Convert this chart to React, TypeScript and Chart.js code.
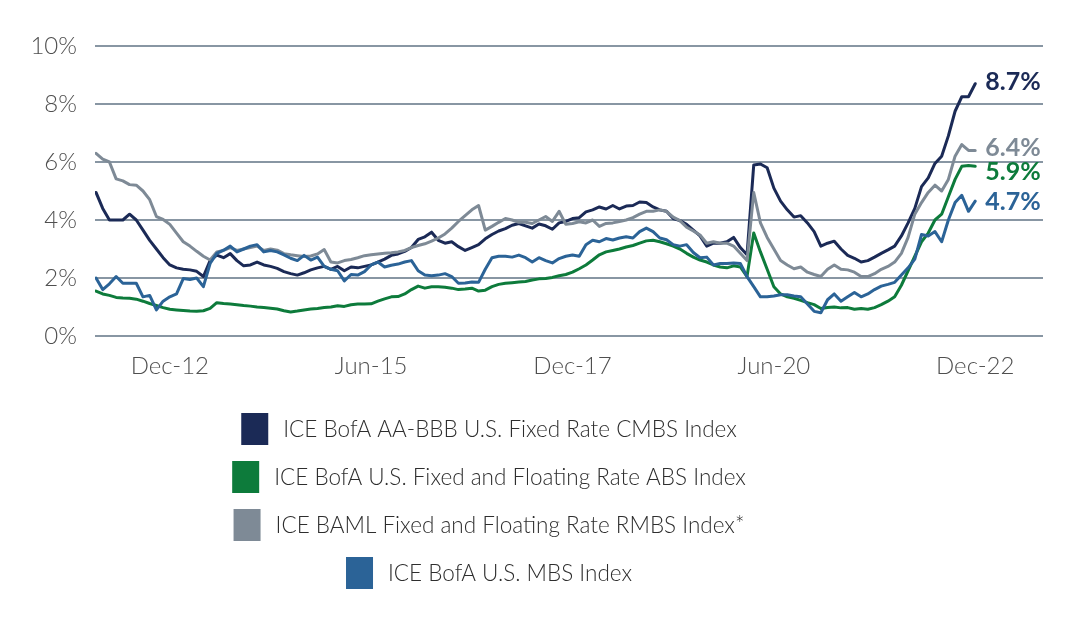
import React, { useEffect, useRef } from 'react';
import { Chart, registerables } from 'chart.js';

Chart.register(...registerables);

// Month categories Jan-12 .. Dec-22
const MONTH_NAMES = ['Jan', 'Feb', 'Mar', 'Apr', 'May', 'Jun', 'Jul', 'Aug', 'Sep', 'Oct', 'Nov', 'Dec'];
const categories: string[] = [];
for (let yr = 12; yr <= 22; yr++) {
  for (const m of MONTH_NAMES) categories.push(`${m}-${yr}`);
}

const xTickLabels = ['Dec-12', 'Jun-15', 'Dec-17', 'Jun-20', 'Dec-22'];

const seriesNames = [
  'ICE BofA AA-BBB U.S. Fixed Rate CMBS Index',
  'ICE BofA U.S. Fixed and Floating Rate ABS Index',
  'ICE BAML Fixed and Floating Rate RMBS Index*',
  'ICE BofA U.S. MBS Index',
];

const endLabels = ['8.7%', '5.9%', '6.4%', '4.7%'];

// ICE BofA AA-BBB U.S. Fixed Rate CMBS Index (yield, %)
const cmbs = [
  4.95, 4.4, 4.0, 4.0, 4.0, 4.2, 4.0, 3.65, 3.3, 3.0, 2.7, 2.45,
  2.35, 2.3, 2.28, 2.23, 2.05, 2.6, 2.79, 2.7, 2.84, 2.6, 2.42, 2.45,
  2.55, 2.45, 2.4, 2.33, 2.22, 2.15, 2.1, 2.18, 2.28, 2.35, 2.4, 2.3,
  2.4, 2.25, 2.38, 2.35, 2.4, 2.45, 2.55, 2.65, 2.78, 2.83, 2.92, 3.05,
  3.33, 3.42, 3.58, 3.3, 3.2, 3.25, 3.08, 2.95, 3.05, 3.15, 3.35, 3.5,
  3.62, 3.7, 3.82, 3.88, 3.8, 3.72, 3.86, 3.8, 3.68, 3.9, 3.95, 4.05,
  4.08, 4.28, 4.35, 4.45, 4.38, 4.5, 4.38, 4.48, 4.5, 4.62, 4.6, 4.45,
  4.35, 4.3, 4.05, 3.98, 3.85, 3.65, 3.45, 3.1, 3.2, 3.2, 3.25, 3.4,
  3.05, 2.8, 5.9, 5.93, 5.8, 5.1, 4.65, 4.35, 4.1, 4.15, 3.9, 3.6,
  3.1, 3.2, 3.27, 3.0, 2.78, 2.68, 2.55, 2.6, 2.72, 2.85, 2.97, 3.1,
  3.45, 3.9, 4.4, 5.15, 5.45, 5.95, 6.2, 6.9, 7.75, 8.25, 8.25, 8.7,
];

// ICE BofA U.S. Fixed and Floating Rate ABS Index
const abs = [
  1.55, 1.45, 1.4, 1.33, 1.31, 1.3, 1.27, 1.2, 1.12, 1.05, 0.98, 0.92,
  0.9, 0.88, 0.86, 0.85, 0.87, 0.95, 1.15, 1.12, 1.1, 1.08, 1.05, 1.03,
  1.0, 0.98, 0.96, 0.93, 0.87, 0.83, 0.86, 0.9, 0.93, 0.95, 0.98, 1.0,
  1.04, 1.02, 1.08, 1.1, 1.1, 1.11, 1.2, 1.28, 1.35, 1.36, 1.45, 1.6,
  1.72, 1.65, 1.7, 1.7, 1.68, 1.65, 1.6, 1.62, 1.65, 1.55, 1.58, 1.7,
  1.78, 1.82, 1.84, 1.86, 1.88, 1.93, 1.97, 1.98, 2.02, 2.08, 2.12, 2.2,
  2.32, 2.45, 2.62, 2.8, 2.9, 2.95, 3.0, 3.07, 3.12, 3.2, 3.28, 3.3,
  3.25, 3.18, 3.1, 3.0, 2.85, 2.72, 2.62, 2.55, 2.45, 2.38, 2.35, 2.42,
  2.38, 2.05, 3.55, 2.9, 2.3, 1.7, 1.45, 1.35, 1.3, 1.23, 1.15, 1.08,
  0.95, 0.98, 1.0, 0.97, 0.98, 0.92, 0.95, 0.92, 0.98, 1.08, 1.2, 1.35,
  1.75, 2.25, 2.75, 3.25, 3.55, 4.0, 4.2, 4.8, 5.4, 5.85, 5.88, 5.85,
];

// ICE BAML Fixed and Floating Rate RMBS Index*
const rmbs = [
  6.3, 6.1, 6.0, 5.42, 5.35, 5.22, 5.2, 5.0, 4.7, 4.12, 4.02, 3.85,
  3.55, 3.25, 3.1, 2.92, 2.75, 2.62, 2.9, 2.95, 3.05, 2.95, 3.0, 3.05,
  3.1, 2.95, 3.0, 2.96, 2.84, 2.8, 2.77, 2.74, 2.76, 2.83, 2.98, 2.55,
  2.52, 2.6, 2.64, 2.7, 2.77, 2.8, 2.83, 2.85, 2.87, 2.9, 2.95, 3.05,
  3.12, 3.18, 3.27, 3.38, 3.52, 3.72, 3.95, 4.15, 4.35, 4.5, 3.65, 3.78,
  3.92, 4.05, 4.0, 3.92, 3.92, 3.88, 4.0, 4.12, 3.95, 4.3, 3.85, 3.88,
  3.94, 3.9, 4.0, 3.78, 3.88, 3.9, 3.95, 4.0, 4.08, 4.2, 4.3, 4.3,
  4.35, 4.3, 4.1, 3.98, 3.75, 3.62, 3.48, 3.2, 3.25, 3.2, 3.2, 3.1,
  2.85, 2.6, 4.95, 3.9, 3.4, 3.0, 2.6, 2.45, 2.32, 2.38, 2.2, 2.12,
  2.05, 2.3, 2.45, 2.3, 2.28, 2.2, 2.05, 2.05, 2.15, 2.3, 2.4, 2.55,
  2.85, 3.4, 4.2, 4.6, 4.95, 5.2, 5.0, 5.4, 6.2, 6.6, 6.4, 6.4,
];

// ICE BofA U.S. MBS Index
const mbs = [
  2.0, 1.6, 1.8, 2.05, 1.82, 1.82, 1.82, 1.35, 1.4, 0.9, 1.2, 1.35,
  1.45, 1.98, 1.95, 2.0, 1.7, 2.5, 2.85, 2.96, 3.1, 2.9, 3.0, 3.1,
  3.15, 2.9, 2.95, 2.9, 2.8, 2.68, 2.6, 2.78, 2.62, 2.72, 2.4, 2.3,
  2.25, 1.9, 2.12, 2.1, 2.22, 2.45, 2.55, 2.38, 2.44, 2.48, 2.55, 2.6,
  2.25, 2.1, 2.08, 2.1, 2.15, 2.05, 1.82, 1.83, 1.86, 1.85, 2.3, 2.7,
  2.75, 2.75, 2.72, 2.79, 2.7, 2.55, 2.7, 2.6, 2.52, 2.67, 2.75, 2.79,
  2.75, 3.15, 3.3, 3.25, 3.36, 3.31, 3.38, 3.42, 3.38, 3.6, 3.72, 3.6,
  3.38, 3.32, 3.15, 3.1, 3.15, 2.88, 2.7, 2.72, 2.45, 2.5, 2.5, 2.52,
  2.5, 2.05, 1.7, 1.35, 1.35, 1.38, 1.42, 1.42, 1.38, 1.35, 1.1, 0.85,
  0.8, 1.25, 1.45, 1.2, 1.35, 1.5, 1.35, 1.45, 1.6, 1.72, 1.78, 1.85,
  2.1, 2.35, 2.65, 3.5, 3.45, 3.6, 3.25, 4.0, 4.6, 4.85, 4.3, 4.65,
];

const seriesValues = [cmbs, abs, rmbs, mbs];
const colors = ['#1b2a56', '#0d7b3b', '#7e8a96', '#2b6397'];
const drawOrder = [3, 2, 1, 0];
const labelOffsets = [-2, 6, -2, 1];

const FONT = 'Lato, "Open Sans", sans-serif';

const endLabelPlugin = {
  id: 'endLabels',
  afterDatasetsDraw(chart: any) {
    const { ctx, scales } = chart;
    ctx.save();
    ctx.font = `bold 25px ${FONT}`;
    ctx.textAlign = 'left';
    ctx.textBaseline = 'middle';
    chart.data.datasets.forEach((ds: any, k: number) => {
      const last = ds.data[ds.data.length - 1];
      const x = scales.x.getPixelForValue(last.x) + 10;
      const y = scales.y.getPixelForValue(last.y) + labelOffsets[k];
      ctx.fillStyle = colors[k];
      ctx.fillText(endLabels[k], x, y);
    });
    ctx.restore();
  },
};

const legendPlugin = {
  id: 'stackedLegend',
  afterDraw(chart: any) {
    const { ctx } = chart;
    ctx.save();
    ctx.font = `300 22.5px ${FONT}`;
    ctx.textBaseline = 'middle';
    ctx.textAlign = 'left';
    const centerX = 489;
    const boxW = 27;
    const boxH = 32;
    const gap = 15;
    chart.data.datasets.forEach((ds: any, k: number) => {
      const cy = 429 + k * 48;
      const tw = ctx.measureText(ds.label).width;
      const total = boxW + gap + tw;
      const left = centerX - total / 2;
      ctx.fillStyle = colors[k];
      ctx.fillRect(left, cy - boxH / 2, boxW, boxH);
      ctx.fillStyle = '#2e2e2e';
      ctx.fillText(ds.label, left + boxW + gap, cy + 1);
    });
    ctx.restore();
  },
};

export default function App() {
  const canvasRef = useRef<HTMLCanvasElement | null>(null);

  useEffect(() => {
    const canvas = canvasRef.current;
    if (!canvas) return;
    const tickIdx = xTickLabels.map((l) => categories.indexOf(l));
    const chart = new Chart(canvas, {
      type: 'line',
      data: {
        datasets: seriesNames.map((name, k) => ({
          label: name,
          data: seriesValues[k].map((v, i) => ({ x: i, y: v })),
          borderColor: colors[k],
          backgroundColor: colors[k],
          borderWidth: 3,
          pointRadius: 0,
          tension: 0,
          borderJoinStyle: 'round' as const,
          borderCapStyle: 'round' as const,
          order: drawOrder[k],
          fill: false,
        })),
      },
      options: {
        responsive: false,
        animation: false,
        layout: { padding: { top: 46, right: 33, left: 0, bottom: 0 } },
        plugins: {
          legend: { display: false },
          tooltip: { enabled: false },
        },
        scales: {
          x: {
            type: 'linear',
            min: -0.15,
            max: 141.1,
            grid: { display: false, drawTicks: false },
            border: { display: false },
            ticks: {
              autoSkip: false,
              maxRotation: 0,
              padding: 16,
              color: '#4f4f4f',
              font: { family: FONT, size: 24, weight: '300' as any },
              callback: (v: any) => categories[Math.round(Number(v))] ?? '',
            },
            afterBuildTicks: (axis: any) => {
              axis.ticks = tickIdx.map((v) => ({ value: v }));
            },
            afterFit: (axis: any) => {
              axis.height = 284;
            },
          },
          y: {
            min: 0,
            max: 10,
            ticks: {
              stepSize: 2,
              padding: 18,
              color: '#4f4f4f',
              font: { family: FONT, size: 24, weight: '300' as any },
              callback: (v: any) => `${v}%`,
            },
            grid: { color: '#8896a3', lineWidth: 2, drawTicks: false },
            border: { display: false },
            afterFit: (axis: any) => {
              axis.width = 95;
            },
          },
        },
      },
      plugins: [endLabelPlugin, legendPlugin],
    });
    return () => chart.destroy();
  }, []);

  return (
    <div style={{ position: 'fixed', left: 0, top: 0, width: 1076, height: 620, background: '#ffffff' }}>
      <canvas ref={canvasRef} width={1076} height={620} />
    </div>
  );
}
